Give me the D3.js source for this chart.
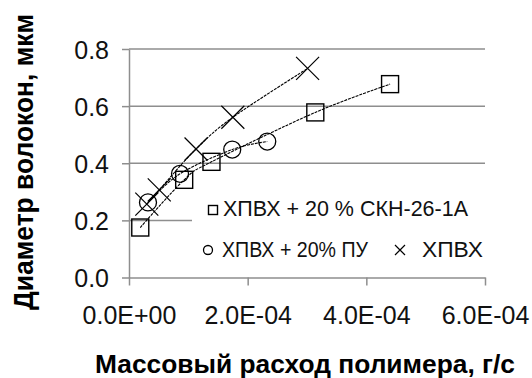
<!DOCTYPE html>
<html>
<head>
<meta charset="utf-8">
<script src="https://cdn.jsdelivr.net/npm/d3@7"></script>
<style>
  html, body { margin: 0; padding: 0; background: #fff; }
  svg { display: block; font-family: "Liberation Sans", Arial, sans-serif; }
</style>
</head>
<body>
<svg id="chart" width="532" height="378"></svg>
<script>
// Series: fibre diameter (µm) versus polymer mass flow rate (g/s)
const seriesNames = ["ХПВХ + 20 % СКН-26-1А", "ХПВХ + 20% ПУ", "ХПВХ"];
const sknX = [1.9e-5, 9.3e-5, 1.39e-4, 3.14e-4, 4.40e-4];
const sknY = [0.175, 0.342, 0.405, 0.578, 0.677];
const puX = [3.2e-5, 8.6e-5, 1.74e-4, 2.33e-4];
const puY = [0.263, 0.363, 0.448, 0.476];
const pvcX = [3.0e-5, 5.1e-5, 1.13e-4, 1.75e-4, 3.01e-4];
const pvcY = [0.257, 0.307, 0.450, 0.561, 0.732];
const xTicks = [0, 2e-4, 4e-4, 6e-4];
const yTicks = [0, 0.2, 0.4, 0.6, 0.8];
const xTitle = "Массовый расход полимера, г/с";
const yTitle = "Диаметр волокон, мкм";

(function draw() {
  const svg = d3.select("#chart");
  const plotLeft = 129, plotRight = 485, plotTop = 49, plotBottom = 277.5;
  const x = d3.scaleLinear().domain([0, 6e-4]).range([plotLeft, plotRight]);
  const y = d3.scaleLinear().domain([0, 0.8]).range([plotBottom, plotTop]);
  const grey = "#8e8e8e";

  // Scientific tick labels in the 0.0E+00 style
  const sci = v => {
    const [m, e] = v.toExponential(1).split("e");
    const n = Math.abs(+e);
    return m + "E" + (+e < 0 ? "-" : "+") + (n < 10 ? "0" + n : n);
  };

  // Horizontal gridlines
  svg.append("g").selectAll("line")
    .data(yTicks.filter(d => d > 0))
    .join("line")
    .attr("x1", plotLeft).attr("x2", plotRight)
    .attr("y1", d => y(d)).attr("y2", d => y(d))
    .attr("stroke", grey).attr("stroke-width", 1.5);

  // Y axis
  const yAxis = svg.append("g")
    .attr("transform", `translate(${plotLeft},0)`)
    .call(d3.axisLeft(y).tickValues(yTicks).tickFormat(d3.format(".1f"))
      .tickSize(7).tickSizeOuter(0).tickPadding(13));
  yAxis.select(".domain").attr("stroke", grey).attr("stroke-width", 1.5);
  yAxis.selectAll(".tick line").attr("stroke", grey).attr("stroke-width", 1.5);
  yAxis.selectAll(".tick text")
    .attr("font-size", 25).attr("fill", "#111").attr("font-family", "Liberation Sans, Arial, sans-serif")
    .attr("dy", "0.36em");

  // X axis
  const xAxis = svg.append("g")
    .attr("transform", `translate(0,${plotBottom})`)
    .call(d3.axisBottom(x).tickValues(xTicks).tickFormat(sci)
      .tickSize(8).tickSizeOuter(0).tickPadding(21));
  xAxis.select(".domain").attr("stroke", grey).attr("stroke-width", 1.5);
  xAxis.selectAll(".tick line").attr("stroke", grey).attr("stroke-width", 1.5);
  xAxis.selectAll(".tick text")
    .attr("font-size", 25).attr("fill", "#111").attr("font-family", "Liberation Sans, Arial, sans-serif");

  // Legend panel (white, no border) hides the gridline behind it
  svg.append("rect")
    .attr("x", 192).attr("y", 188).attr("width", 293).attr("height", 84)
    .attr("fill", "#fff");

  // Series
  const series = [
    { name: seriesNames[0], xs: sknX, ys: sknY, shape: "square" },
    { name: seriesNames[1], xs: puX, ys: puY, shape: "circle" },
    { name: seriesNames[2], xs: pvcX, ys: pvcY, shape: "cross" }
  ];

  const line = d3.line()
    .x(d => x(d[0])).y(d => y(d[1]))
    .curve(d3.curveCardinal.tension(0));

  function marker(g, shape, cx, cy, s) {
    if (shape === "square") {
      g.append("rect").attr("x", cx - s / 2).attr("y", cy - s / 2)
        .attr("width", s).attr("height", s)
        .attr("fill", "none").attr("stroke", "#000").attr("stroke-width", 1.4);
    } else if (shape === "circle") {
      g.append("circle").attr("cx", cx).attr("cy", cy).attr("r", s / 2)
        .attr("fill", "none").attr("stroke", "#000").attr("stroke-width", 1.3);
    } else {
      const h = s / 2;
      g.append("path")
        .attr("d", `M${cx - h},${cy - h}L${cx + h},${cy + h}M${cx - h},${cy + h}L${cx + h},${cy - h}`)
        .attr("fill", "none").attr("stroke", "#000").attr("stroke-width", 1.2);
    }
  }

  const plot = svg.append("g");
  series.forEach(s => {
    const pts = s.xs.map((v, i) => [v, s.ys[i]]);
    plot.append("path")
      .attr("d", line(pts))
      .attr("fill", "none").attr("stroke", "#000")
      .attr("stroke-width", 1.1).attr("stroke-dasharray", "3,1");
    const mg = plot.append("g");
    const size = s.shape === "cross" ? 23 : 17;
    pts.forEach(p => marker(mg, s.shape, x(p[0]), y(p[1]), size));
  });

  // Legend entries
  const legend = svg.append("g").attr("font-size", 22).attr("fill", "#111");
  const legendItems = [
    { s: series[0], mx: 213, my: 210, tx: 223, ty: 216, len: 245, ms: 9 },
    { s: series[1], mx: 208, my: 250, tx: 222, ty: 257, len: 146, ms: 9 },
    { s: series[2], mx: 400, my: 250, tx: 422, ty: 257, len: 61, ms: 10 }
  ];
  legendItems.forEach(it => {
    marker(legend, it.s.shape, it.mx, it.my, it.ms);
    legend.append("text")
      .attr("x", it.tx).attr("y", it.ty)
      .attr("textLength", it.len).attr("lengthAdjust", "spacingAndGlyphs")
      .text(it.s.name);
  });

  // Axis titles
  svg.append("text")
    .attr("x", 305).attr("y", 372.5)
    .attr("text-anchor", "middle")
    .attr("font-size", 26).attr("font-weight", "bold").attr("fill", "#000")
    .attr("textLength", 420).attr("lengthAdjust", "spacingAndGlyphs")
    .text(xTitle);

  svg.append("text")
    .attr("transform", "translate(33,162) rotate(-90)")
    .attr("text-anchor", "middle")
    .attr("font-size", 27).attr("font-weight", "bold").attr("fill", "#000")
    .attr("textLength", 296).attr("lengthAdjust", "spacingAndGlyphs")
    .text(yTitle);
})();
</script>
</body>
</html>
